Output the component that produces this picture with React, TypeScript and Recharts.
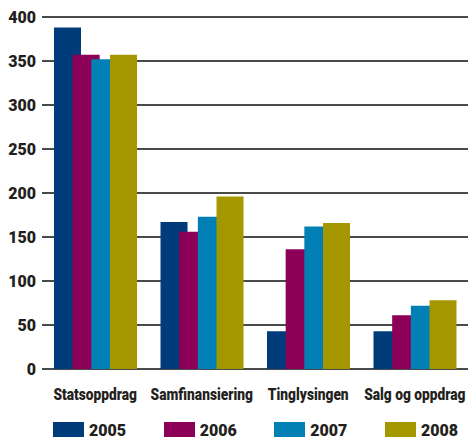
import React from "react";
import { BarChart, Bar, XAxis, YAxis, CartesianGrid, Legend } from "recharts";

const categories = ["Statsoppdrag", "Samfinansiering", "Tinglysingen", "Salg og oppdrag"];
const years = ["2005", "2006", "2007", "2008"];
const values2005 = [388, 167, 43, 43];
const values2006 = [357, 156, 136, 61];
const values2007 = [352, 173, 162, 72];
const values2008 = [357, 196, 166, 78];
const yTicks = [0, 50, 100, 150, 200, 250, 300, 350, 400];
const colors = ["#003b7a", "#8c0058", "#0080b5", "#a59700"];

const seriesValues = [values2005, values2006, values2007, values2008];
const data = categories.map((c, i) => {
  const row: Record<string, string | number> = { name: c };
  years.forEach((y, j) => {
    row[y] = seriesValues[j][i];
  });
  return row;
});

const textColor = "#231f20";
const fontFamily = "Roboto, 'Liberation Sans', Arial, sans-serif";

const XTick = (props: any) => {
  const { x, y, payload } = props;
  return (
    <g transform={`translate(${x},${y + 23}) scale(0.86,1)`}>
      <text
        x={0}
        y={0}
        textAnchor="middle"
        fill={textColor}
        fontSize={16}
        fontWeight={900}
        fontFamily={fontFamily}
      >
        {payload.value}
      </text>
    </g>
  );
};

const YTick = (props: any) => {
  const { x, y, payload } = props;
  return (
    <text
      x={x + 2}
      y={y + 6}
      textAnchor="end"
      fill={textColor}
      fontSize={16}
      fontWeight={900}
      fontFamily={fontFamily}
    >
      {payload.value}
    </text>
  );
};

const LegendContent = () => (
  <div
    style={{
      height: 27,
      paddingTop: 12,
      boxSizing: "border-box",
      display: "flex",
      justifyContent: "space-between",
      alignItems: "flex-start",
      paddingLeft: 53,
      paddingRight: 14,
      fontFamily: fontFamily,
      fontWeight: 900,
      fontSize: 16,
      color: textColor,
    }}
  >
    {years.map((y, i) => (
      <div key={y} style={{ display: "flex", alignItems: "flex-start" }}>
        <div style={{ width: 31, height: 17, background: colors[i], marginRight: 5 }} />
        <span style={{ lineHeight: "18px" }}>{y}</span>
      </div>
    ))}
  </div>
);

export default function App() {
  return (
    <div style={{ position: "absolute", left: 0, top: 0, width: 472, height: 437, background: "#fff" }}>
      <BarChart
        width={472}
        height={437}
        data={data}
        margin={{ top: 17, right: 4, bottom: 0, left: 0 }}
        barSize={27}
        barGap={-8.33}
      >
        <CartesianGrid horizontal vertical={false} stroke="#4a4a4a" strokeWidth={2} />
        <XAxis
          dataKey="name"
          axisLine={false}
          tickLine={false}
          height={41}
          interval={0}
          tick={<XTick />}
        />
        <YAxis
          domain={[0, 400]}
          ticks={yTicks}
          axisLine={false}
          tickLine={false}
          width={42}
          tick={<YTick />}
        />
        <Legend
          verticalAlign="bottom"
          content={<LegendContent />}
          wrapperStyle={{ left: 0, width: 472, bottom: 0 }}
        />
        {years.map((y, i) => (
          <Bar key={y} dataKey={y} fill={colors[i]} isAnimationActive={false} />
        ))}
      </BarChart>
    </div>
  );
}
